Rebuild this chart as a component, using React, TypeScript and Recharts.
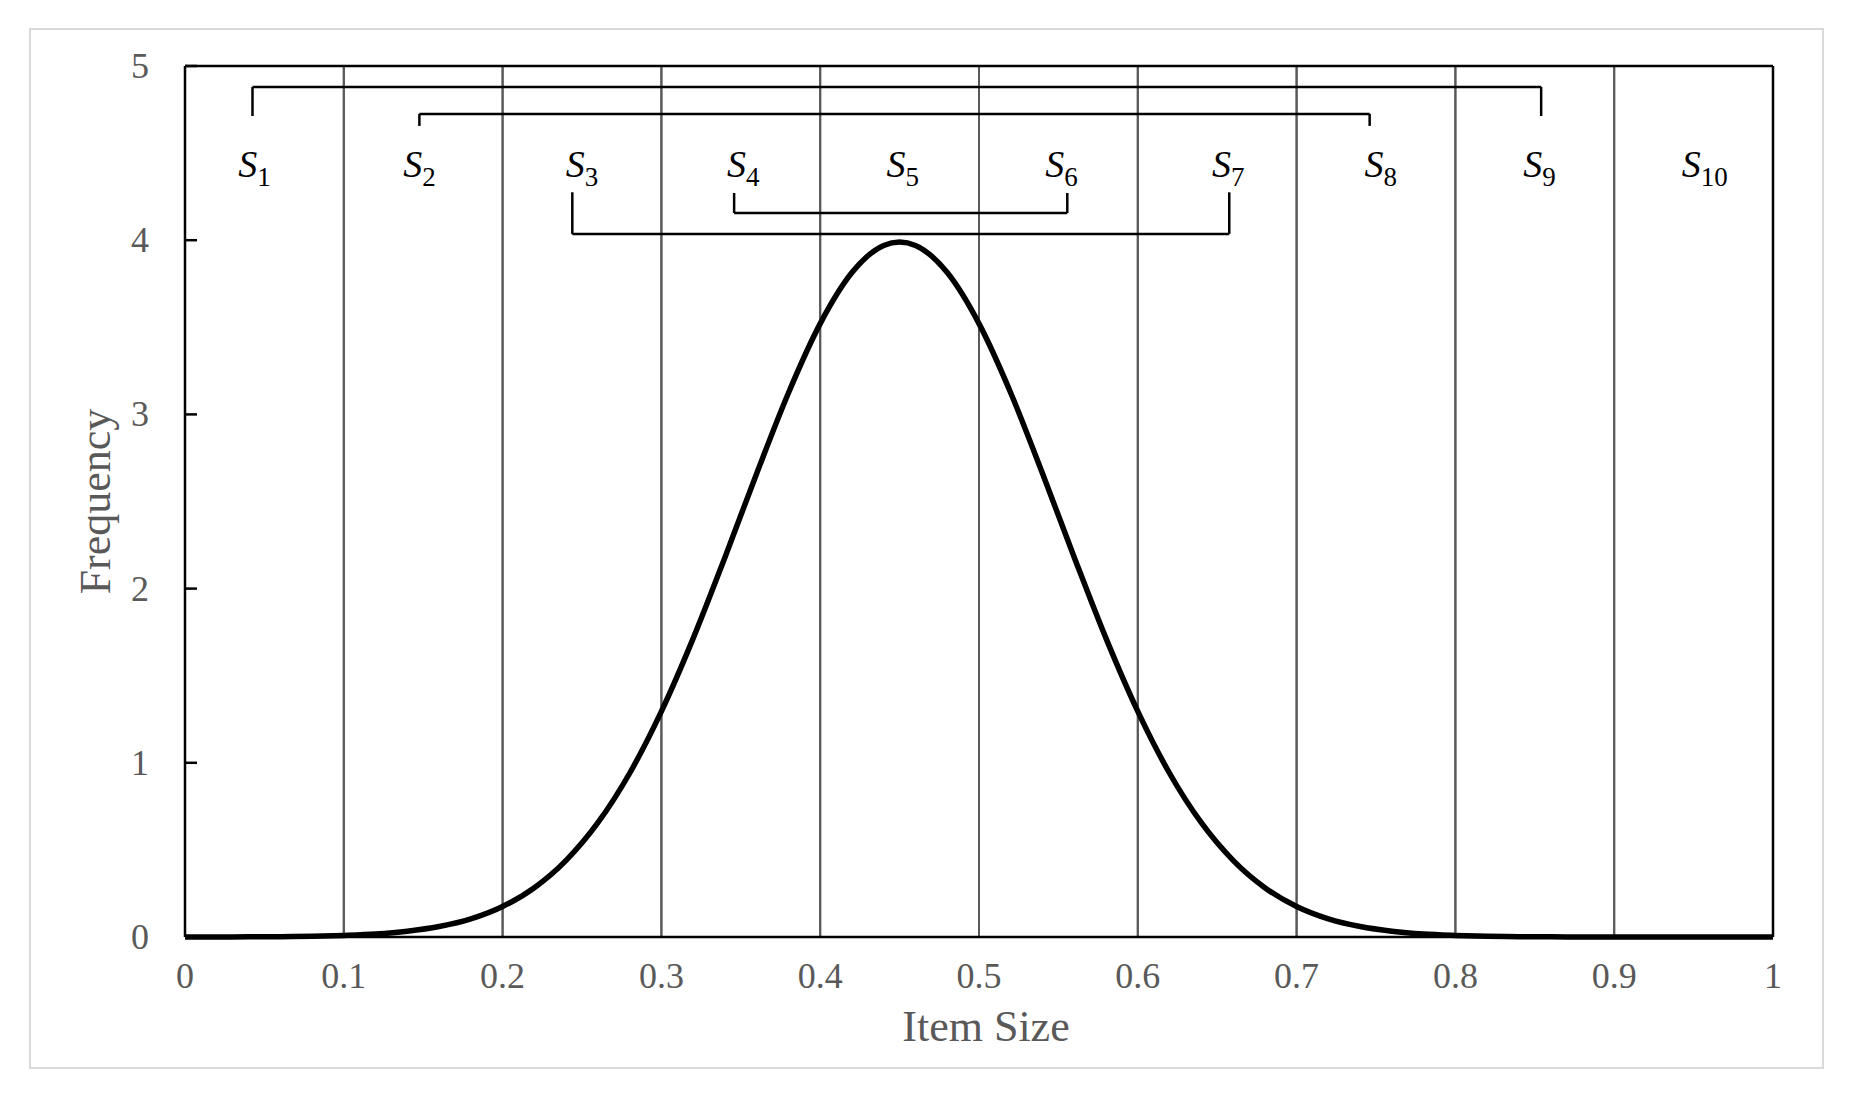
import React from 'react';
import { LineChart, Line, XAxis, YAxis, CartesianGrid, ReferenceLine, ReferenceDot } from 'recharts';

// item size (x) and frequency (y)
const itemSize = [
  0, 0.02, 0.04, 0.06, 0.08, 0.1, 0.12, 0.14, 0.16, 0.18, 0.2, 0.22, 0.24, 0.26, 0.28, 0.3,
  0.32, 0.34, 0.36, 0.38, 0.4, 0.42, 0.44, 0.45, 0.46, 0.48, 0.5, 0.52, 0.54, 0.56, 0.58, 0.6,
  0.62, 0.64, 0.66, 0.68, 0.7, 0.72, 0.74, 0.76, 0.78, 0.8, 0.82, 0.84, 0.86, 0.88, 0.9, 0.92,
  0.94, 0.96, 0.98, 1,
];
const frequency = [
  0.0002, 0.0004, 0.0009, 0.002, 0.004, 0.009, 0.017, 0.033, 0.06, 0.104, 0.175, 0.283, 0.44, 0.656, 0.94, 1.295,
  1.714, 2.179, 2.661, 3.123, 3.521, 3.814, 3.97, 3.989, 3.97, 3.814, 3.521, 3.123, 2.661, 2.179, 1.714, 1.295,
  0.94, 0.656, 0.44, 0.283, 0.175, 0.104, 0.06, 0.033, 0.017, 0.009, 0.004, 0.002, 0.0009, 0.0004, 0.0002, 0.0001,
  0, 0, 0, 0,
];

const xTicks = [0, 0.1, 0.2, 0.3, 0.4, 0.5, 0.6, 0.7, 0.8, 0.9, 1];
const yTicks = [0, 1, 2, 3, 4, 5];
const dividers = [0.1, 0.2, 0.3, 0.4, 0.5, 0.6, 0.7, 0.8, 0.9];

// segment labels S1..S10
const segmentX = [0.0437, 0.1476, 0.25, 0.3515, 0.452, 0.552, 0.657, 0.753, 0.853, 0.957];
const segmentSub = ['1', '2', '3', '4', '5', '6', '7', '8', '9', '10'];
const segmentLabelY = 4.365;

// brackets pairing S1-S9, S2-S8, S3-S7, S4-S6
const bracketLeft = [0.0425, 0.1476, 0.2439, 0.3458];
const bracketRight = [0.854, 0.746, 0.6576, 0.5556];
const bracketBar = [4.88, 4.725, 4.036, 4.156];
const bracketEnd = [4.713, 4.656, 4.275, 4.271];

const data = itemSize.map((x, i) => ({ x, y: frequency[i] }));

const FONT = '"Liberation Serif", "Times New Roman", serif';
const GRAY = '#595959';

const XTick = (props: any) => {
  const { x, y, payload } = props;
  return (
    <text x={x} y={y + 51} textAnchor="middle" fill={GRAY} fontSize={36} fontFamily={FONT}>
      {String(payload.value)}
    </text>
  );
};

const YTick = (props: any) => {
  const { x, y, payload } = props;
  return (
    <g>
      <line x1={x} x2={x + 12} y1={y} y2={y} stroke="#000" strokeWidth={2.5} />
      <text x={x - 36} y={y + 12} textAnchor="end" fill={GRAY} fontSize={36} fontFamily={FONT}>
        {String(payload.value)}
      </text>
    </g>
  );
};

const XTitle = (props: any) => {
  const vb = props.viewBox;
  return (
    <text x={vb.x + vb.width / 2 + 7} y={vb.y + 104} textAnchor="middle" fill={GRAY} fontSize={44} fontFamily={FONT}>
      Item Size
    </text>
  );
};

const YTitle = (props: any) => {
  const vb = props.viewBox;
  const cx = vb.x + 75;
  const cy = vb.y + vb.height / 2;
  return (
    <text x={cx} y={cy} transform={`rotate(-90, ${cx}, ${cy})`} textAnchor="middle" fill={GRAY} fontSize={44} fontFamily={FONT}>
      Frequency
    </text>
  );
};

const segmentShape = (sub: string) => (p: any) => (
  <text x={p.cx} y={p.cy} textAnchor="middle" fill="#000" fontFamily={FONT} fontSize={38}>
    <tspan fontStyle="italic">S</tspan>
    <tspan fontSize={27} dy={9}>{sub}</tspan>
  </text>
);

const App: React.FC = () => {
  return (
    <div style={{ position: 'absolute', left: 0, top: 0, width: 1855, height: 1100, background: '#fff' }}>
      <div
        style={{
          position: 'absolute', left: 29, top: 28, width: 1795, height: 1041,
          border: '2px solid #d9d9d9', boxSizing: 'border-box',
        }}
      />
      <div style={{ position: 'absolute', left: 0, top: 0 }}>
        <LineChart width={1855} height={1100} data={data} margin={{ top: 66, right: 82, bottom: 103, left: 35 }}>
          <CartesianGrid horizontal={false} verticalValues={dividers} stroke={GRAY} strokeWidth={2} />
          <XAxis
            dataKey="x"
            type="number"
            domain={[0, 1]}
            ticks={xTicks}
            height={60}
            axisLine={false}
            tickLine={false}
            tickSize={0}
            tickMargin={0}
            tick={<XTick />}
            interval={0}
            label={<XTitle />}
          />
          <YAxis
            type="number"
            domain={[0, 5]}
            ticks={yTicks}
            width={150}
            axisLine={false}
            tickLine={false}
            tickSize={0}
            tickMargin={0}
            tick={<YTick />}
            interval={0}
            label={<YTitle />}
          />
          {dividers.map((d) => (
            <ReferenceLine key={`d${d}`} x={d} stroke={GRAY} strokeWidth={2} />
          ))}
          <ReferenceLine x={0} stroke="#000" strokeWidth={2.5} />
          <ReferenceLine x={1} stroke="#000" strokeWidth={2.5} />
          <ReferenceLine y={5} stroke="#000" strokeWidth={2.5} />
          <ReferenceLine y={0} stroke="#000" strokeWidth={2.5} />
          {bracketLeft.map((l, i) => (
            <React.Fragment key={`b${i}`}>
              <ReferenceLine segment={[{ x: l, y: bracketBar[i] }, { x: bracketRight[i], y: bracketBar[i] }]} stroke="#000" strokeWidth={2.5} />
              <ReferenceLine segment={[{ x: l, y: bracketBar[i] }, { x: l, y: bracketEnd[i] }]} stroke="#000" strokeWidth={2.5} />
              <ReferenceLine segment={[{ x: bracketRight[i], y: bracketBar[i] }, { x: bracketRight[i], y: bracketEnd[i] }]} stroke="#000" strokeWidth={2.5} />
            </React.Fragment>
          ))}
          {segmentX.map((sx, i) => (
            <ReferenceDot key={`s${i}`} x={sx} y={segmentLabelY} r={0} shape={segmentShape(segmentSub[i])} />
          ))}
          <Line
            type="monotone"
            dataKey="y"
            stroke="#000"
            strokeWidth={5.5}
            dot={false}
            activeDot={false}
            isAnimationActive={false}
          />
        </LineChart>
      </div>
    </div>
  );
};

export default App;
